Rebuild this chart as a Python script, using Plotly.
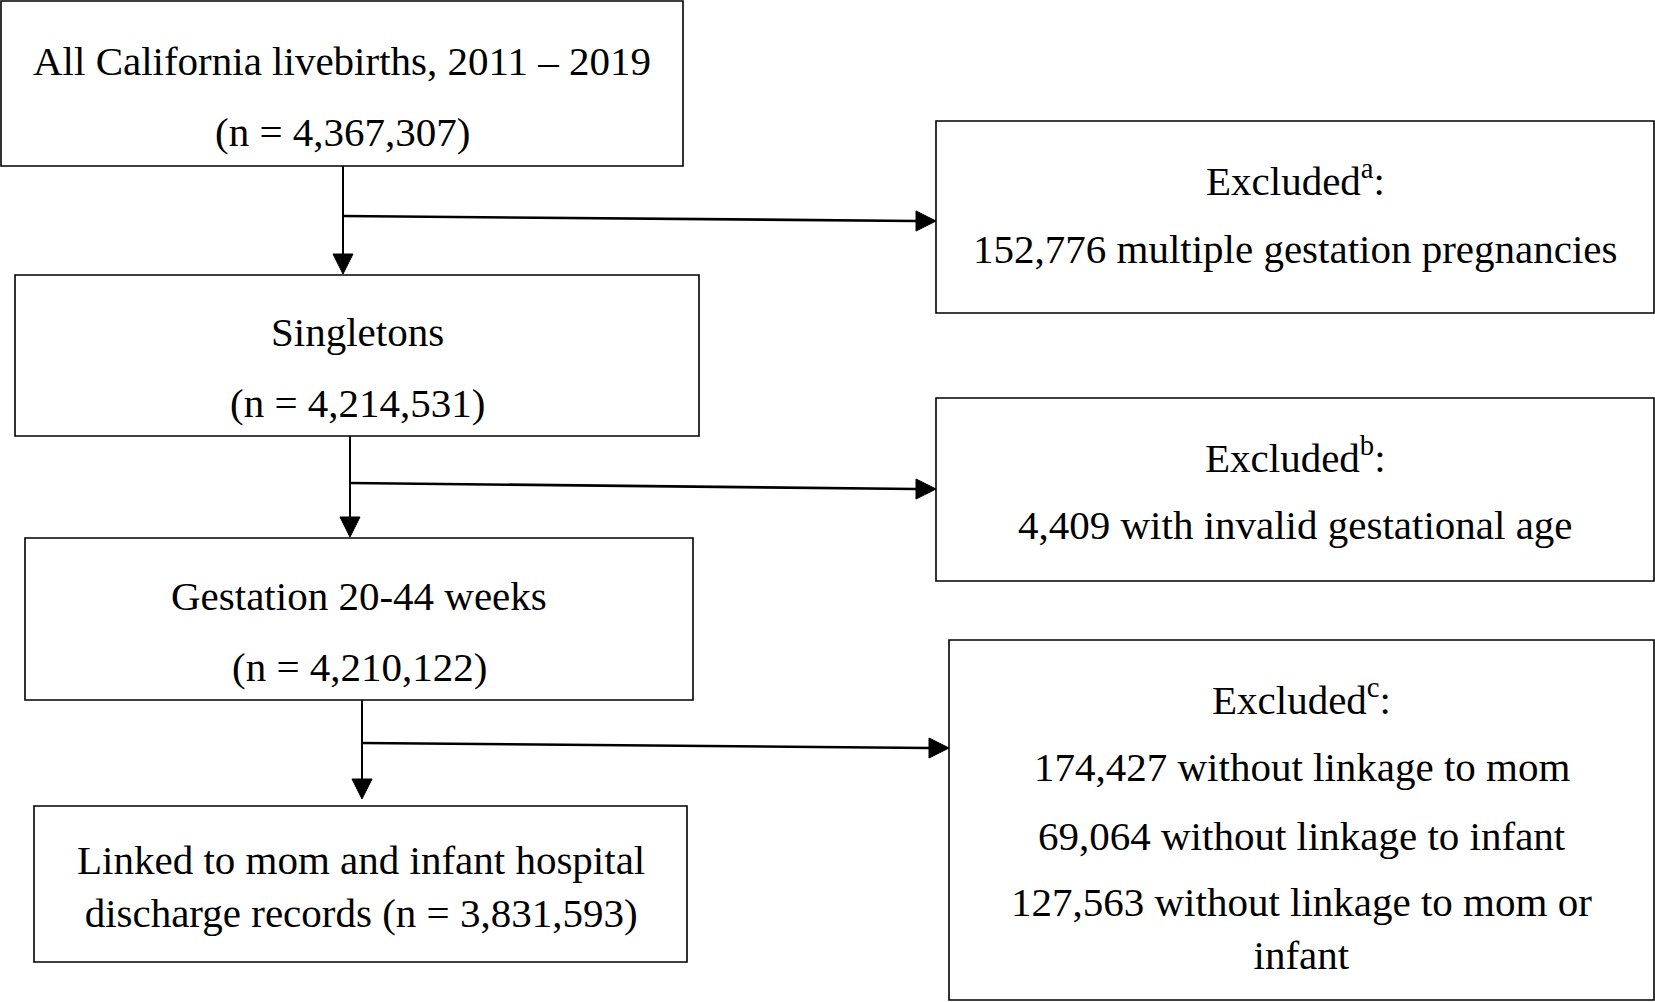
import plotly.graph_objects as go

# flowchart content
main_titles = ["All California livebirths, 2011 – 2019", "Singletons",
               "Gestation 20-44 weeks", "Linked to mom and infant hospital"]
main_counts = [4367307, 4214531, 4210122, 3831593]
excl_marks = ["a", "b", "c"]
excl_counts = [[152776], [4409], [174427, 69064, 127563]]
excl_reasons = [["multiple gestation pregnancies"],
                ["with invalid gestational age"],
                ["without linkage to mom", "without linkage to infant",
                 "without linkage to mom or<br>infant"]]

# page geometry (pixels, y down)
W, H = 1655, 1002
main_boxes = [(1, 1, 683, 166), (15, 275, 699, 436), (25, 538, 693, 700), (34, 806, 687, 962)]
excl_boxes = [(936, 121, 1654, 313), (936, 398, 1654, 581), (949, 640, 1654, 1000)]
main_text_y = [[61, 132], [332, 403], [596, 667], [886]]
excl_text_y = [[178, 249], [455, 525], [697, 767, 836, 928]]
stem_x = [343, 350, 362]
stem_tip = [274, 537, 799]
branch_y0 = [216, 483, 743]
branch_y1 = [221, 489, 748]

FONT = "Liberation Serif, Times New Roman, serif"
FS = 41
HEAD_L, HEAD_W = 20, 10


def main_lines(i):
    n = f"(n = {main_counts[i]:,})"
    if i == len(main_titles) - 1:
        return [f"{main_titles[i]}<br>discharge records {n}"]
    return [main_titles[i], n]


def excl_lines(i):
    out = [f"Excluded<sup>{excl_marks[i]}</sup>:"]
    for c, r in zip(excl_counts[i], excl_reasons[i]):
        out.append(f"{c:,} {r}")
    return out


fig = go.Figure()
shapes = []
annotations = []

for (x0, y0, x1, y1) in main_boxes + excl_boxes:
    shapes.append(dict(type="rect", x0=x0, y0=y0, x1=x1, y1=y1,
                       line=dict(color="black", width=1.6), fillcolor="white", layer="below"))

for i, box in enumerate(main_boxes):
    cx = (box[0] + box[2]) / 2
    for txt, y in zip(main_lines(i), main_text_y[i]):
        annotations.append(dict(x=cx, y=y, text=txt, showarrow=False, xanchor="center",
                                yanchor="middle", align="center"))

for i, box in enumerate(excl_boxes):
    cx = (box[0] + box[2]) / 2
    for txt, y in zip(excl_lines(i), excl_text_y[i]):
        annotations.append(dict(x=cx, y=y, text=txt, showarrow=False, xanchor="center",
                                yanchor="middle", align="center"))

for i in range(3):
    x = stem_x[i]
    top = main_boxes[i][3]
    tip = stem_tip[i]
    # vertical stem + head
    shapes.append(dict(type="line", x0=x, y0=top, x1=x, y1=tip - HEAD_L,
                       line=dict(color="black", width=2)))
    shapes.append(dict(type="path",
                       path=f"M {x - HEAD_W} {tip - HEAD_L} L {x + HEAD_W} {tip - HEAD_L} L {x} {tip} Z",
                       fillcolor="black", line=dict(color="black", width=1)))
    # branch to exclusion box
    bx = excl_boxes[i][0]
    shapes.append(dict(type="line", x0=x, y0=branch_y0[i], x1=bx - HEAD_L, y1=branch_y1[i],
                       line=dict(color="black", width=2.6)))
    yb = branch_y1[i]
    shapes.append(dict(type="path",
                       path=f"M {bx - HEAD_L} {yb - HEAD_W} L {bx - HEAD_L} {yb + HEAD_W} L {bx} {yb} Z",
                       fillcolor="black", line=dict(color="black", width=1)))

fig.update_layout(
    width=W, height=H,
    margin=dict(l=0, r=0, t=0, b=0),
    paper_bgcolor="white", plot_bgcolor="white",
    xaxis=dict(range=[0, W], visible=False, fixedrange=True),
    yaxis=dict(range=[H, 0], visible=False, fixedrange=True),
    font=dict(family=FONT, size=FS, color="black"),
    shapes=shapes, annotations=annotations,
    showlegend=False,
)

# page body has an 8px default margin; drop it so the figure fills the window
fig.write_html("out.html", config={"displayModeBar": False},
               post_script="document.body.style.margin='0';document.body.style.overflow='hidden';")
